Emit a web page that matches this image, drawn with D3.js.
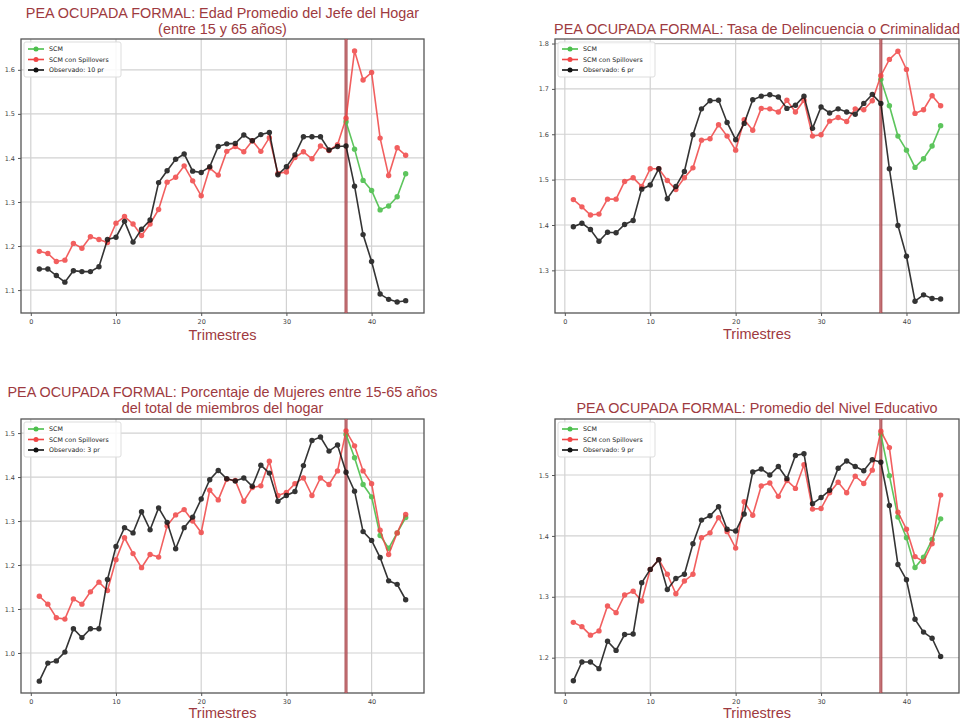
<!DOCTYPE html>
<html>
<head>
<meta charset="utf-8">
<script src="https://cdn.jsdelivr.net/npm/d3@7"></script>
<style>
  html, body { margin: 0; padding: 0; background: #fff; }
  svg { display: block; font-family: "Liberation Sans", Arial, sans-serif; }
</style>
</head>
<body>
<svg id="chart" width="968" height="723"></svg>
<script>
// ---------- DATA ----------
const trimestres = d3.range(1, 45);          // 1..44
const tratamiento = 37;
const xTicks = [0, 10, 20, 30, 40];

const titles1 = ["PEA OCUPADA FORMAL: Edad Promedio del Jefe del Hogar", "(entre 15 y 65 años)"];
const titles2 = ["PEA OCUPADA FORMAL: Tasa de Delincuencia o Criminalidad"];
const titles3 = ["PEA OCUPADA FORMAL: Porcentaje de Mujeres entre 15-65 años", "del total de miembros del hogar"];
const titles4 = ["PEA OCUPADA FORMAL: Promedio del Nivel Educativo"];

const legendLabels1 = ["SCM", "SCM con Spillovers", "Observado: 10 pr"];
const legendLabels2 = ["SCM", "SCM con Spillovers", "Observado: 6 pr"];
const legendLabels3 = ["SCM", "SCM con Spillovers", "Observado: 3 pr"];
const legendLabels4 = ["SCM", "SCM con Spillovers", "Observado: 9 pr"];

const yTicks1 = [1.1, 1.2, 1.3, 1.4, 1.5, 1.6];
const yTicks2 = [1.3, 1.4, 1.5, 1.6, 1.7, 1.8];
const yTicks3 = [1.0, 1.1, 1.2, 1.3, 1.4, 1.5];
const yTicks4 = [1.2, 1.3, 1.4, 1.5];

// Panel 1: Edad Promedio del Jefe del Hogar
const obs1 = [1.148,1.148,1.133,1.118,1.144,1.142,1.142,1.153,1.215,1.220,1.256,1.209,1.238,1.259,1.344,1.371,1.397,1.409,1.370,1.367,1.380,1.426,1.432,1.433,1.452,1.439,1.453,1.458,1.362,1.380,1.407,1.448,1.448,1.448,1.418,1.426,1.427,1.336,1.226,1.165,1.091,1.079,1.073,1.076];
const spill1 = [1.188,1.183,1.165,1.168,1.206,1.195,1.221,1.215,1.208,1.252,1.267,1.250,1.224,1.250,1.283,1.345,1.356,1.382,1.348,1.314,1.377,1.361,1.415,1.426,1.414,1.439,1.415,1.446,1.365,1.368,1.401,1.414,1.398,1.427,1.417,1.430,1.490,1.643,1.577,1.594,1.445,1.360,1.423,1.406];
const scm1 = [1.482,1.420,1.349,1.326,1.282,1.291,1.312,1.364]; // trimestres 37..44

// Panel 2: Tasa de Delincuencia o Criminalidad
const obs2 = [1.396,1.404,1.390,1.364,1.384,1.383,1.401,1.410,1.479,1.488,1.524,1.458,1.485,1.518,1.599,1.656,1.674,1.675,1.626,1.588,1.624,1.676,1.684,1.687,1.682,1.657,1.664,1.684,1.613,1.660,1.647,1.656,1.649,1.644,1.668,1.688,1.668,1.524,1.399,1.331,1.232,1.246,1.238,1.237];
const spill2 = [1.456,1.440,1.422,1.424,1.457,1.457,1.496,1.504,1.485,1.524,1.524,1.498,1.478,1.504,1.526,1.587,1.590,1.621,1.596,1.565,1.632,1.609,1.657,1.656,1.649,1.675,1.649,1.675,1.596,1.599,1.629,1.637,1.628,1.656,1.654,1.674,1.729,1.765,1.783,1.743,1.646,1.654,1.685,1.663];
const scm2 = [1.721,1.663,1.596,1.565,1.527,1.546,1.574,1.619];

// Panel 3: Porcentaje de Mujeres entre 15-65 años
const obs3 = [0.936,0.977,0.982,1.002,1.055,1.035,1.055,1.055,1.167,1.242,1.285,1.273,1.321,1.280,1.330,1.297,1.237,1.285,1.309,1.350,1.394,1.415,1.396,1.391,1.398,1.379,1.427,1.409,1.345,1.358,1.367,1.426,1.483,1.491,1.459,1.473,1.411,1.368,1.276,1.256,1.217,1.164,1.156,1.121];
const spill3 = [1.129,1.111,1.080,1.077,1.123,1.111,1.139,1.161,1.142,1.212,1.262,1.226,1.194,1.224,1.218,1.289,1.314,1.326,1.300,1.274,1.370,1.348,1.395,1.392,1.345,1.376,1.380,1.436,1.358,1.365,1.385,1.398,1.358,1.398,1.383,1.414,1.505,1.471,1.414,1.385,1.279,1.224,1.273,1.315];
const scm3 = [1.497,1.444,1.383,1.355,1.267,1.238,1.273,1.308];

// Panel 4: Promedio del Nivel Educativo
const obs4 = [1.162,1.193,1.193,1.182,1.227,1.212,1.238,1.239,1.323,1.345,1.361,1.312,1.330,1.337,1.387,1.426,1.433,1.448,1.411,1.408,1.436,1.505,1.510,1.500,1.514,1.494,1.532,1.535,1.453,1.463,1.475,1.511,1.523,1.514,1.507,1.525,1.521,1.450,1.353,1.328,1.263,1.242,1.232,1.202];
const spill4 = [1.258,1.251,1.237,1.244,1.285,1.274,1.303,1.309,1.293,1.345,1.361,1.337,1.305,1.326,1.337,1.397,1.405,1.430,1.407,1.380,1.456,1.434,1.482,1.487,1.465,1.491,1.478,1.517,1.444,1.445,1.471,1.488,1.471,1.498,1.486,1.508,1.572,1.545,1.439,1.411,1.366,1.358,1.387,1.467];
const scm4 = [1.567,1.499,1.431,1.397,1.348,1.365,1.394,1.428];

const xLabel = "Trimestres";

// ---------- STYLE / LAYOUT ----------
const colGreen = "#4cbf4c", colRed = "#f04444", colBlack = "#111111";
const titleColor = "#9e3a40";
const svg = d3.select("#chart");

const panels = [
  { box: {l: 21, r: 424, t: 39, b: 313}, yDom: [1.048, 1.670], yTicks: yTicks1, titles: titles1, titleY: [18, 34], xlabY: 340,
    obs: obs1, spill: spill1, scm: scm1, legend: legendLabels1 },
  { box: {l: 555, r: 959, t: 39, b: 313}, yDom: [1.206, 1.810], yTicks: yTicks2, titles: titles2, titleY: [34], xlabY: 339,
    obs: obs2, spill: spill2, scm: scm2, legend: legendLabels2 },
  { box: {l: 21, r: 424, t: 419, b: 693}, yDom: [0.909, 1.532], yTicks: yTicks3, titles: titles3, titleY: [397, 413], xlabY: 718,
    obs: obs3, spill: spill3, scm: scm3, legend: legendLabels3 },
  { box: {l: 555, r: 959, t: 419, b: 693}, yDom: [1.142, 1.592], yTicks: yTicks4, titles: titles4, titleY: [413], xlabY: 718,
    obs: obs4, spill: spill4, scm: scm4, legend: legendLabels4 }
];

panels.forEach(p => {
  const {l, r, t, b} = p.box;
  const x = d3.scaleLinear().domain([-1.15, 46.15]).range([l, r]);
  const y = d3.scaleLinear().domain(p.yDom).range([b, t]);
  const g = svg.append("g");

  // grid
  g.append("g").selectAll("line").data(xTicks).join("line")
    .attr("x1", d => x(d)).attr("x2", d => x(d)).attr("y1", t).attr("y2", b)
    .attr("stroke", "#d2d2d2").attr("stroke-width", 1.2);
  g.append("g").selectAll("line").data(p.yTicks).join("line")
    .attr("x1", l).attr("x2", r).attr("y1", d => y(d)).attr("y2", d => y(d))
    .attr("stroke", "#d2d2d2").attr("stroke-width", 1.2);

  // axes
  const ax = g.append("g").attr("transform", `translate(0,${b})`)
    .call(d3.axisBottom(x).tickValues(xTicks).tickFormat(d3.format("d")).tickSize(3).tickPadding(3));
  const ay = g.append("g").attr("transform", `translate(${l},0)`)
    .call(d3.axisLeft(y).tickValues(p.yTicks).tickFormat(d3.format(".1f")).tickSize(3).tickPadding(3));
  [ax, ay].forEach(a => {
    a.select(".domain").remove();
    a.selectAll("line").attr("stroke", "#555");
    a.selectAll("text").attr("fill", "#444").style("font-size", "6.5px")
      .style("font-family", "'DejaVu Sans', sans-serif");
  });

  // frame
  g.append("rect").attr("x", l).attr("y", t).attr("width", r - l).attr("height", b - t)
    .attr("fill", "none").attr("stroke", "#555").attr("stroke-width", 1.3);

  // treatment line
  g.append("line").attr("x1", x(tratamiento)).attr("x2", x(tratamiento)).attr("y1", t).attr("y2", b)
    .attr("stroke", "#9a2e34").attr("stroke-width", 3).attr("opacity", 0.85);
  g.append("line").attr("x1", x(tratamiento)).attr("x2", x(tratamiento)).attr("y1", t).attr("y2", b)
    .attr("stroke", "#d88a8e").attr("stroke-width", 0.9);

  const line = d3.line().x(d => x(d[0])).y(d => y(d[1]));
  const series = [
    { data: p.scm.map((v, i) => [tratamiento + i, v]), color: colGreen, op: 0.9 },
    { data: p.spill.map((v, i) => [trimestres[i], v]), color: colRed, op: 0.85 },
    { data: p.obs.map((v, i) => [trimestres[i], v]), color: colBlack, op: 0.85 }
  ];
  series.forEach(s => {
    const sg = g.append("g").attr("opacity", s.op);
    sg.append("path").datum(s.data).attr("d", line)
      .attr("fill", "none").attr("stroke", s.color).attr("stroke-width", 1.6);
    sg.selectAll("circle").data(s.data).join("circle")
      .attr("cx", d => x(d[0])).attr("cy", d => y(d[1])).attr("r", 2.7).attr("fill", s.color);
  });

  // legend
  const lg = g.append("g").attr("transform", `translate(${l + 3},${t + 3})`);
  lg.append("rect").attr("width", 97).attr("height", 35).attr("rx", 2)
    .attr("fill", "#fff").attr("fill-opacity", 0.85).attr("stroke", "#dddddd");
  [colGreen, colRed, colBlack].forEach((c, i) => {
    const yy = 7 + i * 10.5;
    lg.append("line").attr("x1", 4).attr("x2", 20).attr("y1", yy).attr("y2", yy)
      .attr("stroke", c).attr("stroke-width", 1.6);
    lg.append("circle").attr("cx", 12).attr("cy", yy).attr("r", 2.5).attr("fill", c);
    lg.append("text").attr("x", 25).attr("y", yy + 2.3).text(p.legend[i])
      .attr("fill", "#222").style("font-size", "6.3px").style("font-family", "'DejaVu Sans', sans-serif");
  });

  // titles
  const cx = (l + r) / 2;
  p.titles.forEach((tt, i) => {
    g.append("text").attr("x", cx).attr("y", p.titleY[i]).attr("text-anchor", "middle")
      .attr("fill", titleColor).style("font-size", "14.4px").text(tt);
  });
  g.append("text").attr("x", cx).attr("y", p.xlabY).attr("text-anchor", "middle")
    .attr("fill", titleColor).style("font-size", "14.5px").text(xLabel);
});
</script>
</body>
</html>
